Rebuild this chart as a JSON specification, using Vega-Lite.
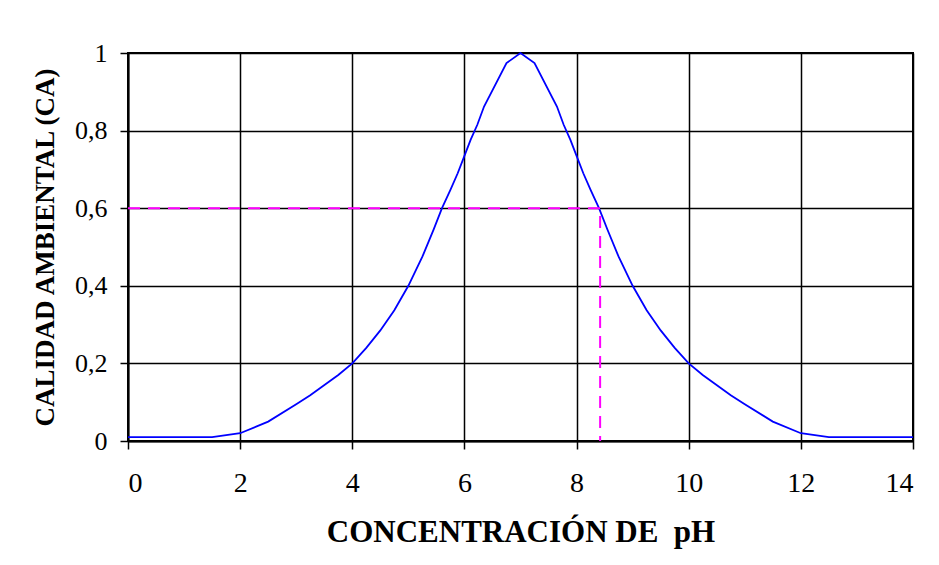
{
  "$schema": "https://vega.github.io/schema/vega-lite/v6.json",
  "width": 785,
  "height": 388,
  "autosize": "none",
  "padding": {"left": 128, "top": 53, "right": 26, "bottom": 124},
  "background": "white",
  "config": {
    "view": {"stroke": "black", "strokeWidth": 2},
    "font": "Liberation Serif",
    "axis": {
      "domainColor": "black",
      "domainWidth": 2,
      "gridColor": "black",
      "gridWidth": 1.5,
      "gridOpacity": 1,
      "tickColor": "black",
      "tickWidth": 1.5,
      "tickSize": 8,
      "labelFont": "Liberation Serif",
      "labelColor": "black",
      "titleFont": "Liberation Serif",
      "titleColor": "black",
      "titleFontWeight": "bold"
    }
  },
  "datasets": {
    "curve": [
      {"ph": 0, "ca": 0.01},
      {"ph": 1.5, "ca": 0.01},
      {"ph": 2, "ca": 0.02},
      {"ph": 2.5, "ca": 0.05},
      {"ph": 3, "ca": 0.095},
      {"ph": 3.25, "ca": 0.118},
      {"ph": 3.75, "ca": 0.17},
      {"ph": 4, "ca": 0.2},
      {"ph": 4.25, "ca": 0.24},
      {"ph": 4.5, "ca": 0.285},
      {"ph": 4.75, "ca": 0.337},
      {"ph": 5, "ca": 0.4},
      {"ph": 5.25, "ca": 0.475},
      {"ph": 5.45, "ca": 0.545},
      {"ph": 5.6, "ca": 0.6},
      {"ph": 5.75, "ca": 0.647},
      {"ph": 5.88, "ca": 0.69},
      {"ph": 6, "ca": 0.735},
      {"ph": 6.11, "ca": 0.776},
      {"ph": 6.23, "ca": 0.815},
      {"ph": 6.35, "ca": 0.862},
      {"ph": 6.75, "ca": 0.974},
      {"ph": 7, "ca": 1.0},
      {"ph": 7.25, "ca": 0.974},
      {"ph": 7.65, "ca": 0.862},
      {"ph": 7.77, "ca": 0.815},
      {"ph": 7.89, "ca": 0.776},
      {"ph": 8, "ca": 0.735},
      {"ph": 8.12, "ca": 0.69},
      {"ph": 8.25, "ca": 0.647},
      {"ph": 8.4, "ca": 0.6},
      {"ph": 8.55, "ca": 0.545},
      {"ph": 8.75, "ca": 0.475},
      {"ph": 9, "ca": 0.4},
      {"ph": 9.25, "ca": 0.337},
      {"ph": 9.5, "ca": 0.285},
      {"ph": 9.75, "ca": 0.24},
      {"ph": 10, "ca": 0.2},
      {"ph": 10.25, "ca": 0.17},
      {"ph": 10.75, "ca": 0.118},
      {"ph": 11, "ca": 0.095},
      {"ph": 11.5, "ca": 0.05},
      {"ph": 12, "ca": 0.02},
      {"ph": 12.5, "ca": 0.01},
      {"ph": 14, "ca": 0.01}
    ],
    "guide": [
      {"ph": 0, "ca": 0.6, "o": 1},
      {"ph": 8.42, "ca": 0.6, "o": 2},
      {"ph": 8.42, "ca": 0, "o": 3}
    ]
  },
  "layer": [
    {
      "data": {"name": "curve"},
      "mark": {"type": "line", "color": "#0000FF", "strokeWidth": 1.8},
      "encoding": {
        "x": {
          "field": "ph",
          "type": "quantitative",
          "scale": {"domain": [0, 14], "nice": false},
          "axis": {
            "values": [0, 2, 4, 6, 8, 10, 12, 14],
            "format": "d",
            "labelFontSize": 28,
            "title": "CONCENTRACIÓN DE \u00a0pH",
            "titleFontSize": 31,
            "titleX": 392.5,
            "titleY": 91,
            "titleBaseline": "middle",
            "labelPadding": 20
          }
        },
        "y": {
          "field": "ca",
          "type": "quantitative",
          "scale": {"domain": [0, 1], "nice": false},
          "axis": {
            "values": [0, 0.2, 0.4, 0.6, 0.8, 1],
            "labelExpr": "replace(format(datum.value, '~g'), '.', ',')",
            "labelFontSize": 26,
            "title": "CALIDAD AMBIENTAL (CA)",
            "titleFontSize": 27,
            "titleX": -83,
            "titleY": 194,
            "titleAngle": -90,
            "titleBaseline": "middle",
            "labelPadding": 13
          }
        }
      }
    },
    {
      "data": {"name": "guide"},
      "mark": {"type": "line", "color": "#FF00FF", "strokeWidth": 2, "strokeDash": [12, 8]},
      "encoding": {
        "x": {"field": "ph", "type": "quantitative"},
        "y": {"field": "ca", "type": "quantitative"},
        "order": {"field": "o"}
      }
    }
  ]
}
